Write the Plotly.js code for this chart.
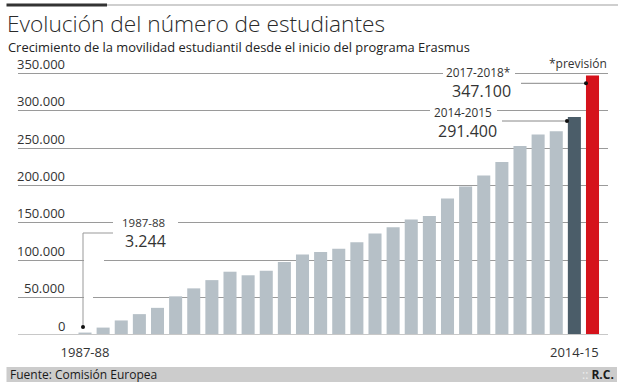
<!DOCTYPE html>
<html>
<head>
<meta charset="utf-8">
<script src="https://cdn.plot.ly/plotly-3.0.1.min.js"></script>
<style>
html,body{margin:0;padding:0;background:#fff;}
#chart{width:625px;height:387px;}
</style>
</head>
<body>
<div id="chart"></div>
<script>
// ---- data ----
const years = ['1987-88','1988-89','1989-90','1990-91','1991-92','1992-93','1993-94','1994-95',
  '1995-96','1996-97','1997-98','1998-99','1999-00','2000-01','2001-02','2002-03','2003-04',
  '2004-05','2005-06','2006-07','2007-08','2008-09','2009-10','2010-11','2011-12','2012-13',
  '2013-14','2014-15','2017-18'];
const students = [3244,9914,19456,27906,36314,51694,62362,73407,84642,79874,85999,97601,
  107666,111092,115432,123957,135586,144037,154553,159324,182697,198523,213266,231408,
  252827,268143,272497,291400,347100];
const xTickVals = ['1987-88','2014-15'];
const xTickText = ['1987-88','2014-15'];
const yTickVals = [0,50000,100000,150000,200000,250000,300000,350000];
const yTickText = ['0','50.000','100.000','150.000','200.000','250.000','300.000','350.000'];
const calloutYears = ['1987-88','2014-2015','2017-2018*'];
const calloutValues = ['3.244','291.400','347.100'];

// ---- geometry helpers (pixel -> paper) ----
const L = 18, R = 608, T = 60, B = 335;
const W = R - L, H = B - T;
const PX = x => (x - L) / W;
const PY = y => (B - y) / H;
const YMAX = 367800;
const PITCH = 18.125, X0PX = 85;
const xRange = [-(X0PX - L) / PITCH, (years.length - 1) + (R - (X0PX + (years.length - 1) * PITCH)) / PITCH];
const DX = px => (px - X0PX) / PITCH;          // pixel -> category index
const DY = py => (B - py) / H * YMAX;          // pixel -> value

const colors = students.map((v, i) => i === students.length - 1 ? '#d5121b' :
  (i === students.length - 2 ? '#4b5d69' : '#b6c0c7'));

const FONT = 'Open Sans, Noto Sans, sans-serif';
const TXT = '#333333';

const trace = {
  type: 'bar', x: years, y: students,
  marker: {color: colors, line: {width: 0}},
  hoverinfo: 'skip'
};

const annotations = [];
// y tick labels sitting above the gridlines
yTickVals.forEach((v, i) => annotations.push({
  xref: 'paper', yref: 'y', x: PX(67), y: v, xanchor: 'right', yanchor: 'bottom',
  text: yTickText[i], showarrow: false, yshift: -1.5,
  font: {family: FONT, size: 13, color: TXT}
}));
// title + subtitle
annotations.push({xref:'paper', yref:'paper', x: PX(5), y: PY(23), xanchor:'left', yanchor:'middle',
  text:'Evolución del número de estudiantes', showarrow:false,
  font:{family:FONT, size:22.7, weight:300, color:'#2a2a2a'}});
annotations.push({xref:'paper', yref:'paper', x: PX(6), y: PY(46.5), xanchor:'left', yanchor:'middle',
  text:'Crecimiento de la movilidad estudiantil desde el inicio del programa Erasmus', showarrow:false,
  font:{family:FONT, size:12.9, color:'#222'}});
// previsión note
annotations.push({xref:'paper', yref:'paper', x: PX(609), y: PY(64), xanchor:'right', yanchor:'middle',
  text:'*previsión', showarrow:false, font:{family:FONT, size:12, color:TXT}});
// callouts (white masks drawn as shapes below)
const callPos = [
  {lx:143, ly:222, vx:145, vy:241, mx0:113, mx1:178},
  {lx:463, ly:111.5, vx:467, vy:130.5, mx0:430, mx1:497},
  {lx:478, ly:72.5, vx:481, vy:91.5, mx0:443, mx1:515}
];
callPos.forEach((p, i) => {
  annotations.push({xref:'paper', yref:'paper', x:PX(p.lx), y:PY(p.ly), xanchor:'center', yanchor:'middle',
    text:calloutYears[i], showarrow:false,
    font:{family:FONT, size:i === 0 ? 11.5 : 11.8, color:TXT}});
  annotations.push({xref:'paper', yref:'paper', x:PX(p.vx), y:PY(p.vy), xanchor:'center', yanchor:'middle',
    text:calloutValues[i], showarrow:false,
    font:{family:FONT, size:16, color:TXT}});
});
// footer
annotations.push({xref:'paper', yref:'paper', x: PX(8), y: PY(374.5), xanchor:'left', yanchor:'middle',
  text:'Fuente: Comisión Europea', showarrow:false, font:{family:FONT, size:12, color:'#1a1a1a'}});
annotations.push({xref:'paper', yref:'paper', x: PX(616), y: PY(374.5), xanchor:'right', yanchor:'middle',
  text:'<span style="color:#eeeeee">::</span> <b>R.C.</b>', showarrow:false, font:{family:FONT, size:12, color:'#1a1a1a'}});

const line = (x0,y0,x1,y1,c,w) => ({type:'line', xref:'paper', yref:'paper', x0:PX(x0), y0:PY(y0), x1:PX(x1), y1:PY(y1), line:{color:c, width:w}, layer:'above'});
const mask = (x0,x1,yc) => ({type:'rect', xref:'paper', yref:'paper', x0:PX(x0), x1:PX(x1), y0:PY(yc+2), y1:PY(yc-2), fillcolor:'#ffffff', line:{width:0}, layer:'above'});
const dot = (px, py) => ({type:'circle', xref:'x', yref:'y', xsizemode:'pixel', ysizemode:'pixel',
  xanchor: DX(px), yanchor: DY(py), x0:-2, x1:2, y0:-2, y1:2, fillcolor:'#111', line:{width:0}, layer:'above'});

const shapes = [
  // footer band
  {type:'rect', xref:'paper', yref:'paper', x0:PX(6.5), x1:PX(617), y0:PY(367), y1:PY(382), fillcolor:'#cccccc', line:{width:0}, layer:'below'},
  // header rules
  line(107, 5, 618, 5, '#cfcfcf', 2),
  line(6.5, 5, 107, 5, '#333333', 3),
  // gridline gaps behind callout labels
  mask(callPos[0].mx0, callPos[0].mx1, 222.7),
  mask(callPos[1].mx0, callPos[1].mx1, 111.7),
  mask(callPos[2].mx0, callPos[2].mx1, 73.3),
  mask(84, 104, 260),
  mask(84, 93, 297.5),
  // baseline
  {type:'line', xref:'paper', yref:'y', x0:0, x1:1, y0:0, y1:0, line:{color:'#c8c8c8', width:2}, layer:'above'},
  // callout leaders
  {type:'path', xref:'x', yref:'y', path:`M ${DX(83)} ${DY(327)} L ${DX(83)} ${DY(233)} L ${DX(113)} ${DY(233)}`, line:{color:'#999', width:1}, layer:'above'},
  {type:'line', xref:'x', yref:'y', x0:DX(502), x1:DX(567), y0:DY(121), y1:DY(121), line:{color:'#888', width:1}, layer:'above'},
  {type:'line', xref:'x', yref:'y', x0:DX(521), x1:DX(586), y0:DY(83.3), y1:DY(83.3), line:{color:'#888', width:1}, layer:'above'},
  dot(83, 327), dot(567, 121), dot(586, 83.3)
];

const layout = {
  width: 625, height: 387,
  margin: {l: L, r: 625 - R, t: T, b: 387 - B, pad: 0},
  paper_bgcolor: '#ffffff', plot_bgcolor: '#ffffff',
  showlegend: false,
  bargap: 0.28,
  font: {family: FONT, color: TXT},
  xaxis: {type:'category', range: xRange, tickmode:'array', tickvals: xTickVals, ticktext: xTickText,
    showgrid:false, zeroline:false, showline:false, ticks:'', ticklabelstandoff: 8,
    tickfont:{family:FONT, size:13, color:TXT}, fixedrange:true},
  yaxis: {range:[0, YMAX], tickmode:'array', tickvals: yTickVals, showticklabels:false, showgrid:true,
    gridcolor:'#9a9a9a', gridwidth:1, zeroline:false, showline:false, ticks:'', fixedrange:true},
  annotations, shapes
};

Plotly.newPlot('chart', [trace], layout, {displayModeBar:false, staticPlot:true});
</script>
</body>
</html>
